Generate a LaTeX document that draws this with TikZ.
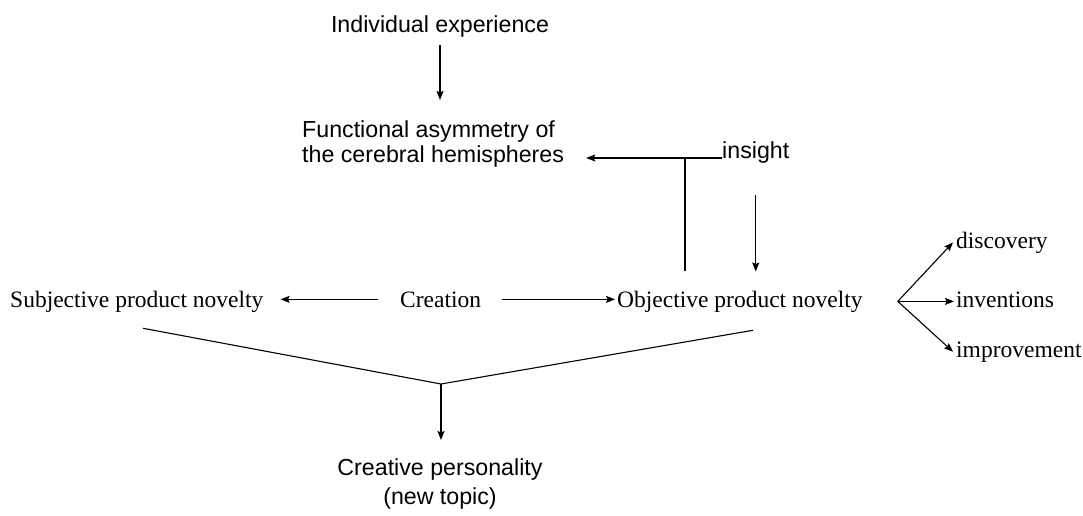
\documentclass[tikz,border=0pt]{standalone}
\usepackage{fontspec}
\setmainfont{Liberation Serif}
\newfontfamily\sansf{Liberation Sans}
\usetikzlibrary{arrows.meta,calc}
\tikzset{
  sanslbl/.style={font=\sansf\fontsize{23.2}{25.5}\selectfont, inner sep=0pt},
  seriflbl/.style={font=\rmfamily\fontsize{23.5}{26}\selectfont, inner sep=0pt},
  arr/.style={-{Stealth[length=9pt,width=7pt,inset=1.5pt]}, line width=1.1pt},
  ln/.style={line width=1.1pt}
}
\begin{document}
\begin{tikzpicture}[x=1pt,y=-1pt]
\useasboundingbox (0,0) rectangle (1083,516);
% nodes
\node[sanslbl, anchor=base] (ie) at (440,33) {Individual experience};
\node[sanslbl, anchor=north west, align=left] (fa) at (302,120) {Functional asymmetry of\\the cerebral hemispheres};
\node[sanslbl, anchor=base west] (ins) at (722,158) {insight};
\node[seriflbl, anchor=base west] (sub) at (10,307) {Subjective product novelty};
\node[seriflbl, anchor=base west] (cre) at (400,307) {Creation};
\node[seriflbl, anchor=base west] (obj) at (617,307) {Objective product novelty};
\node[seriflbl, anchor=base west] (dis) at (956,248) {discovery};
\node[seriflbl, anchor=base west] (inv) at (956,307) {inventions};
\node[seriflbl, anchor=base west] (imp) at (956,357) {improvement};
\node[sanslbl, anchor=north, align=center, font=\sansf\fontsize{23.2}{29.5}\selectfont] (cp) at (440,458) {Creative personality\\(new topic)};
\coordinate (m) at (441,384);
\coordinate (f) at ($(obj.east)+(35,0)$);
% connectors
\draw[arr] ($(ie.south)+(0,7)$) -- ($(ie.south |- fa.north)+(0,-20)$);
\draw[arr] (ins.base west) -- ($(fa.east |- ins.base west)+(22,0)$);
\draw[ln] ($(ins.base west)+(-37,0)$) -- ($(ins.base west |- obj.north)+(-37,-19)$);
\draw[arr] ($(ins.south)+(0,32)$) -- ($(ins.south |- obj.north)+(0,-19)$);
\draw[arr] ($(cre.east)+(21,0)$) -- ($(cre.east -| obj.west)+(-2,0)$);
\draw[arr] ($(cre.west)+(-22,0)$) -- ($(cre.west -| sub.east)+(17,0)$);
\draw[ln] ($(sub.south west)+(133,16)$) -- (m) -- ($(obj.south west)+(136,18)$);
\draw[arr] (m) -- ($(m |- cp.north)+(0,-18)$);
\draw[arr] (f) -- ($(dis.west)+(-3,0)$);
\draw[arr] (f) -- ($(f -| inv.west)+(-2,0)$);
\draw[arr] (f) -- ($(imp.west)+(-3,0)$);
\end{tikzpicture}
\end{document}
